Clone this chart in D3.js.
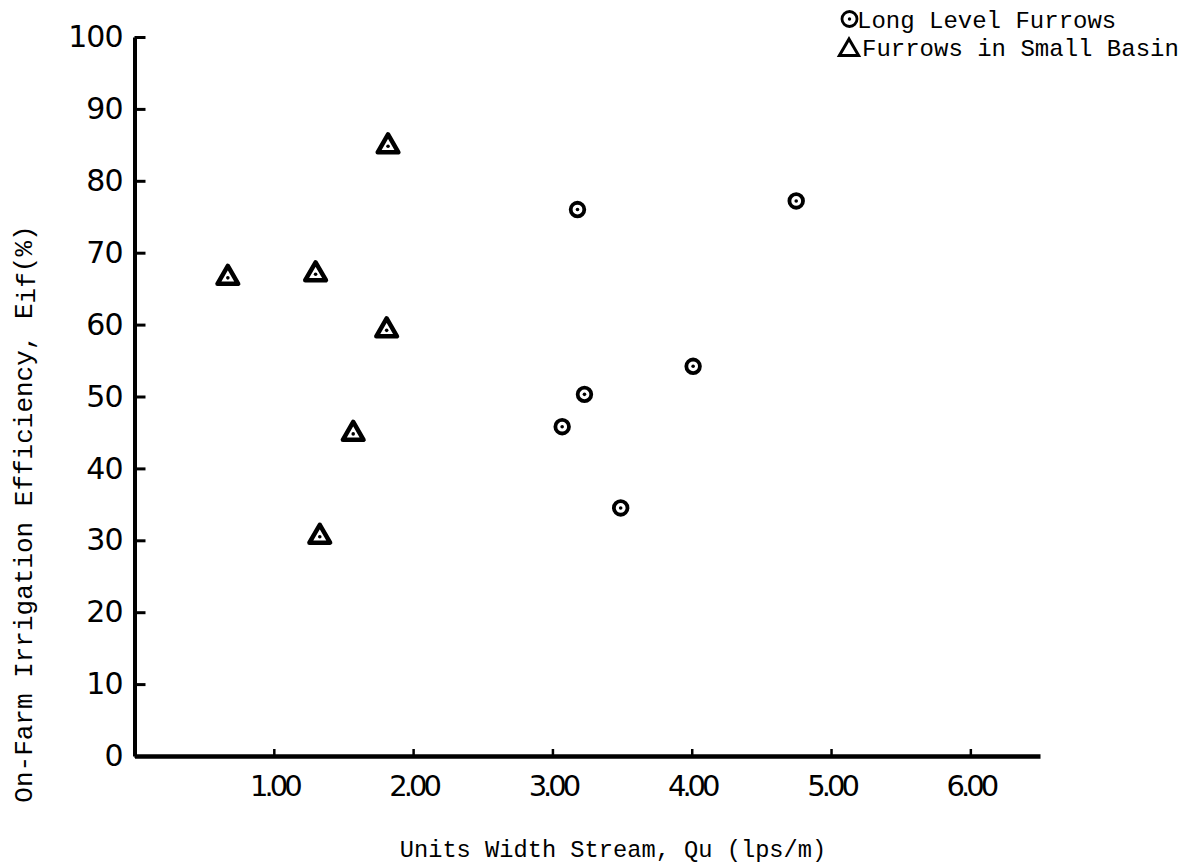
<!DOCTYPE html>
<html>
<head>
<meta charset="utf-8">
<script src="https://cdn.jsdelivr.net/npm/d3@7"></script>
<style>
    body { margin: 0; background: #fff; }
    .axis path, .axis line { stroke: #000; }
    .axis text { font-family: "DejaVu Sans", sans-serif; fill: #000; }
    .typed { font-family: "Liberation Mono", monospace; fill: #000; }
</style>
</head>
<body>
<div id="chart"></div>
<script>
// Long level furrows (circles)
let longX = [3.18, 4.75, 4.01, 3.23, 3.07, 3.49];
let longY = [76.0, 77.2, 54.2, 50.3, 45.8, 34.5];

// Furrows in small basin (triangles)
let basinX = [0.67, 1.30, 1.82, 1.81, 1.57, 1.33];
let basinY = [66.5, 67.0, 84.8, 59.2, 44.8, 30.5];

let xTicks = [1, 2, 3, 4, 5, 6];
let yTicks = [0, 10, 20, 30, 40, 50, 60, 70, 80, 90, 100];

let legendLabels = ["Long Level Furrows", "Furrows in Small Basin"];

let width = 1190, height = 867;

let svg = d3.select("#chart").append("svg")
    .attr("width", width)
    .attr("height", height);

let x = d3.scaleLinear()
    .domain([0, 6.5])
    .range([134.5, 1040]);
let y = d3.scaleLinear()
    .domain([0, 100])
    .range([756, 37]);

// y axis, ticks pointing inward
let yAxis = svg.append("g")
    .attr("class", "axis y-axis")
    .attr("transform", "translate(" + x(0) + ",0)")
    .call(
        d3.axisLeft(y)
            .tickValues(yTicks)
            .tickSizeInner(-11)
            .tickSizeOuter(0)
            .tickPadding(12)
            .tickFormat(d3.format("d"))
    );
yAxis.select("path").style("stroke-width", 4);
yAxis.selectAll("line").style("stroke-width", 3);
yAxis.selectAll("text")
    .style("font-size", "30px")
    .style("letter-spacing", "-1px");

// x axis, ticks pointing up
let xAxis = svg.append("g")
    .attr("class", "axis x-axis")
    .attr("transform", "translate(0," + y(0) + ")")
    .call(
        d3.axisBottom(x)
            .tickValues(xTicks)
            .tickSizeInner(-7)
            .tickSizeOuter(0)
            .tickPadding(19)
            .tickFormat(d3.format(".2f"))
    );
xAxis.select("path").style("stroke-width", 4.5);
xAxis.selectAll("line").style("stroke-width", 2.5);
xAxis.selectAll("text")
    .style("font-size", "29px")
    .style("letter-spacing", "-4px");

// axis titles
svg.append("text")
    .attr("class", "typed")
    .attr("text-anchor", "middle")
    .attr("x", 613)
    .attr("y", 857)
    .style("font-size", "23.7px")
    .text("Units Width Stream, Qu (lps/m)");

let yTitle = svg.append("text")
    .attr("class", "typed")
    .attr("text-anchor", "middle")
    .attr("transform", "translate(32,514) rotate(-90)")
    .style("font-size", "26px");
yTitle.append("tspan").text("On-Farm Irrigation Efficiency, E");
yTitle.append("tspan").attr("dy", 3).text("if");
yTitle.append("tspan").attr("dy", -3).text("(%)");

// markers
let tri = d3.symbol().type(d3.symbolTriangle).size(185);

let longData = longX.map((v, i) => ({x: v, y: longY[i]}));
let basinData = basinX.map((v, i) => ({x: v, y: basinY[i]}));

let circles = svg.selectAll("g.long-pt")
    .data(longData)
    .enter()
    .append("g")
    .attr("class", "long-pt")
    .attr("transform", d => "translate(" + x(d.x) + "," + y(d.y) + ")");
circles.append("circle")
    .attr("r", 6.8)
    .style("fill", "#fff")
    .style("stroke", "#000")
    .style("stroke-width", 3.8);
circles.append("circle")
    .attr("r", 1.8)
    .style("fill", "#000");

let tris = svg.selectAll("g.basin-pt")
    .data(basinData)
    .enter()
    .append("g")
    .attr("class", "basin-pt")
    .attr("transform", d => "translate(" + x(d.x) + "," + y(d.y) + ")");
tris.append("path")
    .attr("d", tri)
    .style("fill", "#fff")
    .style("stroke", "#000")
    .style("stroke-width", 4.5)
    .style("stroke-linejoin", "round");
tris.append("circle")
    .attr("r", 1.8)
    .style("fill", "#000");

// legend
let legend = svg.append("g").attr("class", "legend");
legend.append("circle")
    .attr("cx", 849.5)
    .attr("cy", 19)
    .attr("r", 7.5)
    .style("fill", "#fff")
    .style("stroke", "#000")
    .style("stroke-width", 2.8);
legend.append("circle")
    .attr("cx", 849.5)
    .attr("cy", 19)
    .attr("r", 1.7)
    .style("fill", "#000");
legend.append("path")
    .attr("d", d3.symbol().type(d3.symbolTriangle).size(160))
    .attr("transform", "translate(849,50)")
    .style("fill", "#fff")
    .style("stroke", "#000")
    .style("stroke-width", 3);

legend.selectAll("text")
    .data(legendLabels)
    .enter()
    .append("text")
    .attr("class", "typed")
    .attr("x", (d, i) => i === 0 ? 857 : 862)
    .attr("y", (d, i) => i === 0 ? 28 : 56)
    .style("font-size", "24px")
    .text(d => d);
</script>
</body>
</html>
